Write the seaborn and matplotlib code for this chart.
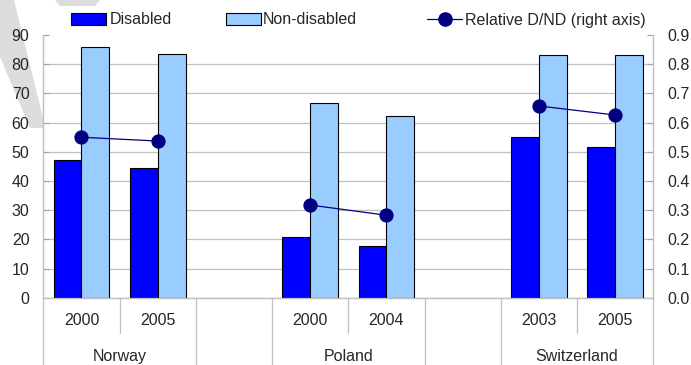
import matplotlib
matplotlib.use('Agg')
import matplotlib.pyplot as plt
import matplotlib.transforms as mtransforms
from matplotlib.patches import Polygon, Patch
from matplotlib.lines import Line2D
import seaborn as sns
import pandas as pd

# Dados
countries = ['Norway', 'Poland', 'Switzerland']
years = [['2000', '2005'], ['2000', '2004'], ['2003', '2005']]
disabled = [47.2, 44.6, 21.0, 17.9, 55.0, 51.8]
non_disabled = [86.0, 83.4, 66.6, 62.4, 83.1, 83.1]
relative = [0.55, 0.537, 0.318, 0.283, 0.657, 0.626]

left_ticks = [0, 10, 20, 30, 40, 50, 60, 70, 80, 90]
right_ticks = [0.0, 0.1, 0.2, 0.3, 0.4, 0.5, 0.6, 0.7, 0.8, 0.9]

# Monta o DataFrame (cada país ocupa 2 posições + 1 vazia de separação)
rows = []
k = 0
for g, country in enumerate(countries):
    for j, year in enumerate(years[g]):
        rows.append({'country': country, 'year': year, 'pos': g * 3 + j,
                     'Disabled': disabled[k], 'Non-disabled': non_disabled[k],
                     'relative': relative[k]})
        k += 1
df = pd.DataFrame(rows)
df_long = df.melt(id_vars=['country', 'year', 'pos'],
                  value_vars=['Disabled', 'Non-disabled'],
                  var_name='series', value_name='value')

sns.set_style('white')
plt.rcParams['font.family'] = ['Liberation Sans', 'DejaVu Sans']
fs = 11.5
grid_c = '#c0c0c0'

fig = plt.figure(figsize=(6.91, 3.65), dpi=100)

# Marca d'água cinza no canto superior esquerdo
W, H = 691, 365
def fig_poly(pts):
    return Polygon([(x / W, 1 - y / H) for x, y in pts], closed=True,
                   transform=fig.transFigure, facecolor='#dddddd',
                   edgecolor='none', zorder=0)
fig.add_artist(fig_poly([(0, 0), (14, 0), (43, 118), (43, 128), (30, 128), (0, 57)]))
fig.add_artist(fig_poly([(55, 0), (100, 0), (95, 6), (60, 6)]))

ax = fig.add_axes([0.0627, 0.1838, 0.8828, 0.7203])
ax.set_facecolor('none')

# Barras
sns.barplot(data=df_long, x='pos', y='value', hue='series', native_scale=True,
            width=0.73, palette=['#0000ff', '#99ccff'], saturation=1,
            edgecolor='black', linewidth=0.8, errorbar=None, legend=False,
            ax=ax, zorder=3)

ax.set_xlim(-0.5, 7.5)
ax.set_ylim(0, 90)
ax.set_xticks([])
ax.set_yticks(left_ticks)
ax.set_yticklabels([str(v) for v in left_ticks], fontsize=fs)
ax.set_xlabel('')
ax.set_ylabel('')
ax.grid(axis='y', color=grid_c, linewidth=0.9, zorder=0)
ax.set_axisbelow(True)
ax.yaxis.get_gridlines()[-1].set_visible(False)
ax.tick_params(axis='y', direction='in', length=4.5, color='#a0a0a0', pad=10)
ax.spines['top'].set_visible(False)
for s in ['left', 'bottom', 'right']:
    ax.spines[s].set_color(grid_c)
    ax.spines[s].set_linewidth(0.9)

# Eixo direito e linha relativa
ax2 = ax.twinx()
sns.lineplot(data=df, x='pos', y='relative', units='country', estimator=None,
             color='#000080', marker='o', markersize=9.5, markeredgecolor='#000080',
             linewidth=0.9, legend=False, ax=ax2, zorder=4)
ax2.set_ylim(0, 0.9)
ax2.set_xlim(-0.5, 7.5)
ax2.set_yticks(right_ticks)
ax2.set_yticklabels([f'{v:.1f}' for v in right_ticks], fontsize=fs)
ax2.tick_params(axis='y', direction='in', length=4.5, color='#a0a0a0', pad=10)
ax2.set_xlabel('')
ax2.set_ylabel('')
ax2.spines['top'].set_visible(False)
for s in ['left', 'bottom', 'right']:
    ax2.spines[s].set_color(grid_c)
    ax2.spines[s].set_linewidth(0.9)

# Eixo x com dois níveis (ano / país)
trans = mtransforms.blended_transform_factory(ax.transData, ax.transAxes)
for _, r in df.iterrows():
    ax.text(r['pos'], -0.087, r['year'], transform=trans, ha='center',
            va='center', fontsize=fs)
for g, country in enumerate(countries):
    ax.text(g * 3 + 0.5, -0.221, country, transform=trans, ha='center',
            va='center', fontsize=fs)

for xs in [0.5, 3.5, 6.5]:
    ax.plot([xs, xs], [0, -0.134], transform=trans, color=grid_c,
            linewidth=0.9, clip_on=False)
for xs in [-0.5, 1.5, 2.5, 4.5, 5.5, 7.5]:
    ax.plot([xs, xs], [0, -0.26], transform=trans, color=grid_c,
            linewidth=0.9, clip_on=False)

# Legenda no topo
ly = 1 - 20 / H
fig.legend(handles=[Patch(facecolor='#0000ff', edgecolor='black', linewidth=0.8)],
           labels=['Disabled'], loc='center left', bbox_to_anchor=(71 / W, ly),
           frameon=False, fontsize=fs, handlelength=2.2, handletextpad=0.25,
           borderpad=0, borderaxespad=0)
fig.legend(handles=[Patch(facecolor='#99ccff', edgecolor='black', linewidth=0.8)],
           labels=['Non-disabled'], loc='center left', bbox_to_anchor=(226 / W, ly),
           frameon=False, fontsize=fs, handlelength=2.2, handletextpad=0.1,
           borderpad=0, borderaxespad=0)
fig.legend(handles=[Line2D([], [], color='#000080', marker='o', markersize=9.5,
                           linewidth=0.9)],
           labels=['Relative D/ND (right axis)'], loc='center left',
           bbox_to_anchor=(427 / W, ly), frameon=False, fontsize=fs,
           handlelength=2.2, handletextpad=0.2, borderpad=0, borderaxespad=0)

plt.savefig('out.png', dpi=100)
